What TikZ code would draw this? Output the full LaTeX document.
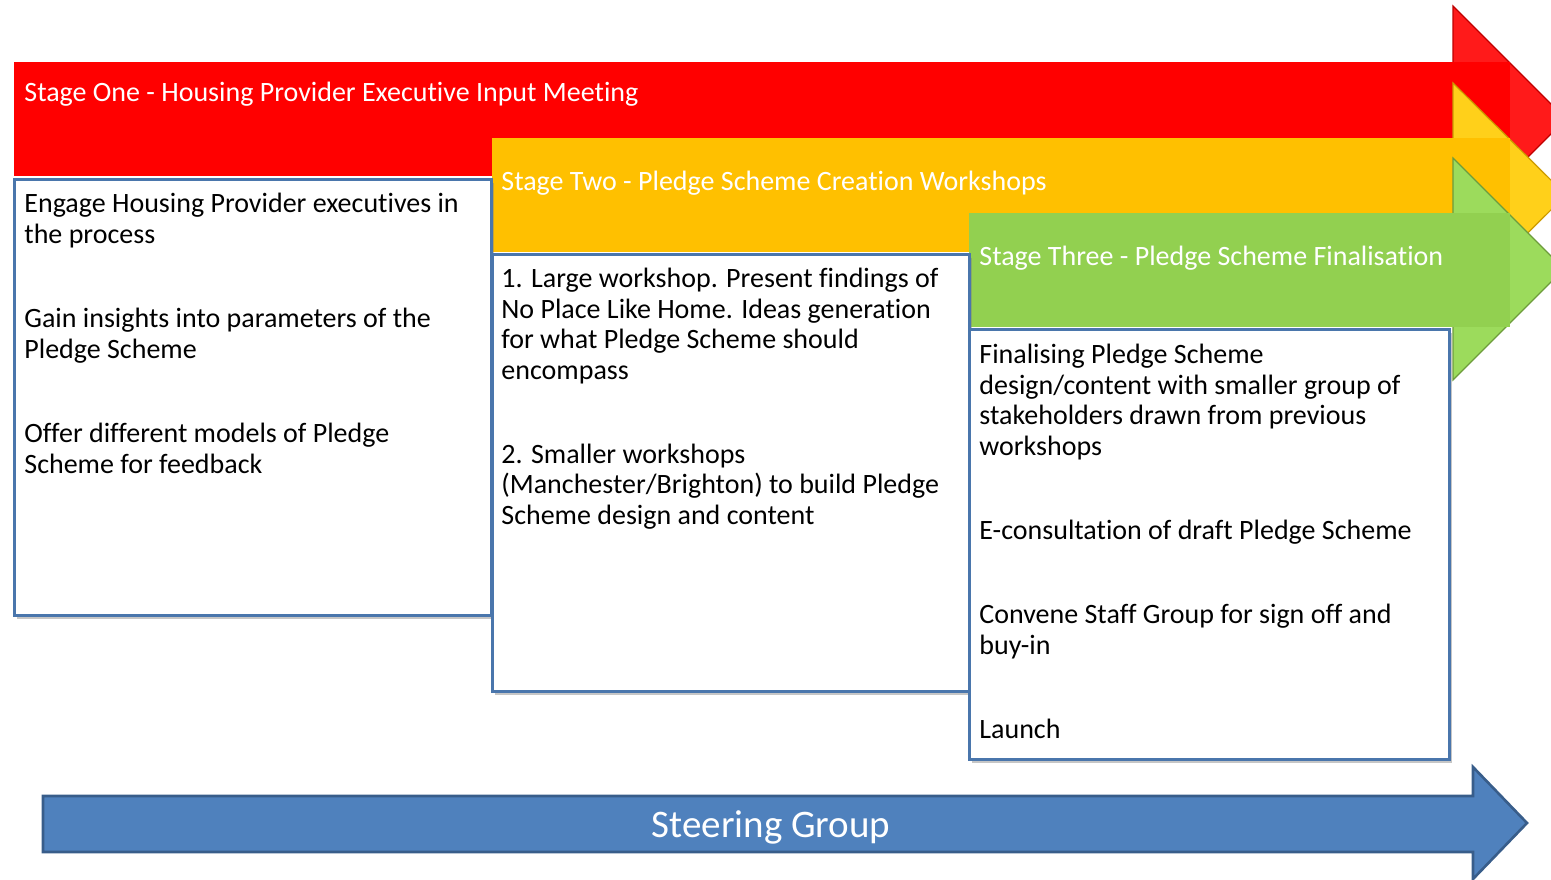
\documentclass[tikz,border=0pt]{standalone}
\usepackage{fontspec}
\setmainfont[Ligatures=NoCommon]{Carlito}
\usetikzlibrary{shadows}
\definecolor{stred}{HTML}{FF0000}
\definecolor{stredhead}{HTML}{FF1A1A}
\definecolor{styellow}{HTML}{FFC000}
\definecolor{styellowhead}{HTML}{FFD01A}
\definecolor{stgreen}{HTML}{92D050}
\definecolor{stgreenhead}{HTML}{9CDB5C}
\definecolor{boxblue}{HTML}{4A76AC}
\definecolor{steerblue}{HTML}{4F81BD}
\definecolor{steerline}{HTML}{385D8A}

\begin{document}
\begin{tikzpicture}[x=0.5pt, y=-0.5pt,
  every node/.style = {inner sep=0pt, anchor=base west, align=left,
    font=\fontsize{14}{15.25}\selectfont},
  title/.style = {text=white},
  stagebox/.style = {draw=boxblue, line width=1.5pt, fill=white,
    drop shadow={shadow xshift=1.5pt, shadow yshift=-2pt, opacity=0.45}},
  headedge/.style = {line width=0.6pt}]
  \useasboundingbox (0,0) rectangle (1551,879);
  \clip (0,0) rectangle (1551,879);

  % stage arrows
  \filldraw[stredhead, draw=red!75!black, headedge] (1453,6) -- (1566,119) -- (1453,232) -- cycle;
  \fill[stred] (14,62) rectangle (1510,176);
  \filldraw[styellowhead, draw=styellow!80!black, headedge] (1453,83) -- (1566,195) -- (1453,307) -- cycle;
  \fill[styellow] (492,138) rectangle (1510,252);
  \filldraw[stgreenhead, draw=stgreen!75!black, headedge] (1453,158) -- (1564,269) -- (1453,380) -- cycle;
  \fill[stgreen] (969,213) rectangle (1510,327);

  % boxes
  \draw[stagebox] (14,179) rectangle (491,615);
  \draw[stagebox] (492,254) rectangle (969,691);
  \draw[stagebox] (969,329) rectangle (1449,759);

  \node[title] (stageone) at (24,101) {Stage One - Housing Provider Executive Input Meeting};
  \node[title] (stagetwo) at (501,190) {Stage Two - Pledge Scheme Creation Workshops};
  \node[title] (stagethree) at (979,265) {Stage Three - Pledge Scheme Finalisation};

  % base = last line
  \node (engage) at (24,243) {Engage Housing Provider executives in\\the process};
  \node (insights) at (24,358) {Gain insights into parameters of the\\Pledge Scheme};
  \node (models) at (24,473) {Offer different models of Pledge\\Scheme for feedback};

  \node (large) at (501,379) {1. Large workshop. Present findings of\\No Place Like Home. Ideas generation\\for what Pledge Scheme should\\encompass};
  \node (smaller) at (501,524) {2. Smaller workshops\\(Manchester/Brighton) to build Pledge\\Scheme design and content};

  \node (finalising) at (979,455) {Finalising Pledge Scheme\\design/content with smaller group of\\stakeholders drawn from previous\\workshops};
  \node (econsult) at (979,539) {E-consultation of draft Pledge Scheme};
  \node (convene) at (979,654) {Convene Staff Group for sign off and\\buy-in};
  \node (launch) at (979,738) {Launch};

  % steering arrow
  \draw[fill=steerblue, draw=steerline, line width=1.3pt]
    (43,796) -- (1473,796) -- (1473,767) -- (1527,823) -- (1473,879) -- (1473,852) -- (43,852) -- cycle;
  \node[anchor=center, text=white, font=\fontsize{19.5}{23}\selectfont] (steering) at (771,827) {Steering Group};
\end{tikzpicture}
\end{document}
